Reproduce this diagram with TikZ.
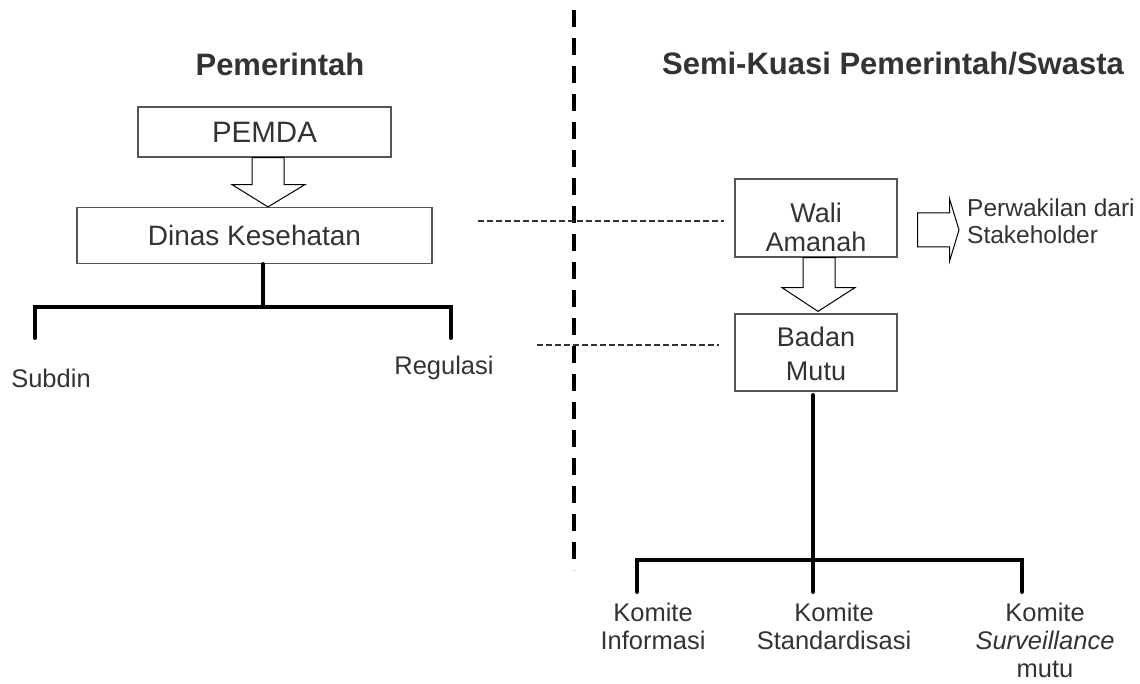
\documentclass[tikz,border=0pt]{standalone}
\usepackage{fontspec}
\setmainfont{Liberation Sans}
\usetikzlibrary{calc}
\definecolor{txt}{HTML}{333333}
\definecolor{edge}{HTML}{555555}
\begin{document}
\begin{tikzpicture}[x=1pt,y=-1pt,
  box/.style={draw=edge,line width=1.2pt,inner sep=0pt},
  lbl/.style={text=txt,inner sep=0pt,font=\fontsize{25.5}{28}\selectfont,align=center},
  boxlbl/.style={text=txt,inner sep=0pt,font=\fontsize{28}{30}\selectfont,align=center},
  ttl/.style={text=txt,inner sep=0pt,font=\fontsize{31}{34}\selectfont\bfseries},
  tree/.style={line width=4pt,line cap=round,line join=miter},
  hollow/.style={draw=black,line width=1pt,fill=white,line join=miter},
  divider/.style={line width=4pt,dash pattern=on 17pt off 11pt},
  link/.style={draw=txt,line width=1.8pt,dash pattern=on 6pt off 3pt}]
\useasboundingbox (0,0) rectangle (1140,684);

% titles
\node[ttl] (tgov) at (280,64) {Pemerintah};
\node[ttl] (tpriv) at (893,64) {Semi-Kuasi Pemerintah/Swasta};

% left side boxes
\node[box,minimum width=253pt,minimum height=50pt] (pemda) at (264.5,132) {};
\node[boxlbl,font=\fontsize{29.5}{30}\selectfont] at (pemda) {PEMDA};
\node[box,minimum width=355pt,minimum height=56pt] (dinas) at (254.5,235.5) {};
\node[boxlbl] at (dinas) {Dinas Kesehatan};

% hollow arrow PEMDA -> Dinas
\draw[hollow] ($(pemda.south)+(-12.5,0)$) -- ++(0,27) -- ++(-20,0)
  -- ($(dinas.north)+(13.5,0)$) -- ($(pemda.south)+(40.5,27)$)
  -- ++(-21,0) -- ++(0,-27) -- cycle;

% left tree
\coordinate (dj) at ($(dinas.south)+(8.5,0)$);
\coordinate (bus) at ($(dj)+(0,43)$);
\coordinate (bl) at (35,307);
\coordinate (br) at (451,307);
\node[lbl] (subdin) at (51,378) {Subdin};
\node[lbl] (regulasi) at (444,368) {Regulasi};
\coordinate (subdinend) at (35,338);
\coordinate (regend) at (451,338);
\draw[tree] (dj) -- (bus);
\draw[tree] (subdinend) -- (bl) -- (br) -- (regend);

% divider
\coordinate (dtop) at (574,10);
\coordinate (dbot) at (574,570);
\draw[divider] (dtop) -- (dbot);

% right side boxes
\node[box,minimum width=162pt,minimum height=78pt] (wali) at (816,218) {};
\node[boxlbl,font=\fontsize{27}{29}\selectfont] at ($(wali)+(0,9)$) {Wali\\Amanah};
\node[box,minimum width=162pt,minimum height=77pt] (badan) at (816,352.5) {};
\node[boxlbl,font=\fontsize{27}{34}\selectfont] at ($(badan)+(0,1)$) {Badan\\Mutu};

% dashed links
\coordinate (l1) at (478,221);
\coordinate (l2) at (537,345);
\draw[link] (l1) -- ($(l1 -| wali.west)+(-10,0)$);
\draw[link] (l2) -- ($(l2 -| badan.west)+(-15,0)$);

% hollow arrow Wali -> Badan
\draw[hollow] ($(wali.south)+(-13,0)$) -- ++(0,30) -- ++(-21,0)
  -- ($(badan.north)+(2,-2)$) -- ($(wali.south)+(39,30)$)
  -- ++(-20,0) -- ++(0,-30) -- cycle;

% hollow arrow Wali -> stakeholder
\node[lbl,anchor=west,align=left,font=\fontsize{24.5}{27}\selectfont] (stake) at (967,221) {Perwakilan dari\\Stakeholder};
\draw[hollow] ($(wali.east)+(20,-5)$) -- ++(32,0) -- ++(0,-14)
  -- ($(stake.west)+(-8,9)$) -- ($(wali.east)+(52,43)$)
  -- ++(0,-14) -- ++(-32,0) -- cycle;

% right tree
\coordinate (bj) at (813,395);
\coordinate (rl) at (637,560);
\coordinate (rr) at (1022,560);
\node[lbl,anchor=north] (k1) at (653,603) {Komite\\Informasi};
\node[lbl,anchor=north] (k2) at (834,603) {Komite\\Standardisasi};
\node[lbl,anchor=north] (k3) at (1045,603) {Komite\\\textit{Surveillance}\\mutu};
\coordinate (k1end) at (637,592);
\coordinate (k2end) at (813,592);
\coordinate (k3end) at (1022,592);
\draw[tree] (bj) -- (k2end);
\draw[tree] (k1end) -- (rl) -- (rr) -- (k3end);
\end{tikzpicture}
\end{document}
